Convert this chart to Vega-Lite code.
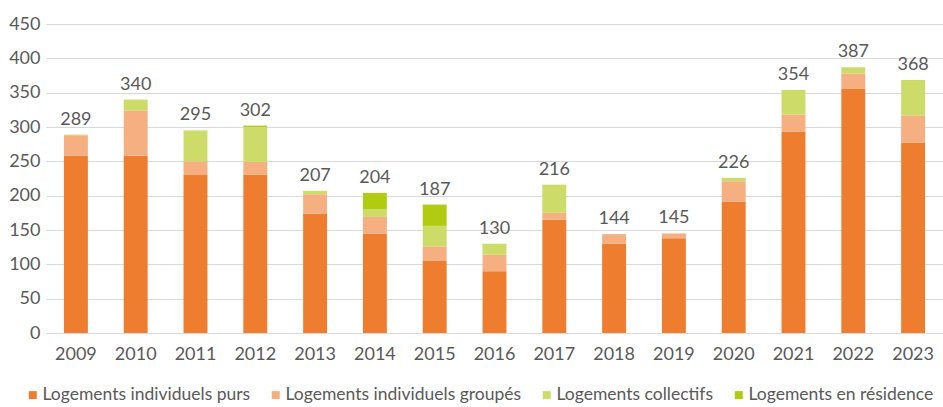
{
  "$schema": "https://vega.github.io/schema/vega-lite/v6.json",
  "width": 897,
  "height": 309,
  "autosize": {"type": "none"},
  "padding": {"left": 46, "top": 24, "right": 0, "bottom": 74},
  "config": {
    "font": "Lato",
    "view": {"stroke": null},
    "axis": {"labelColor": "#595959", "labelFont": "Lato", "labelFontSize": 18, "domain": false, "ticks": false},
    "legend": {"labelColor": "#595959", "labelFont": "Lato", "labelFontSize": 17.5, "labelLimit": 0}
  },
  "data": {
    "values": [
      {"annee": "2009", "type": "Logements individuels purs", "ordre": 1, "valeur": 258},
      {"annee": "2009", "type": "Logements individuels groupés", "ordre": 2, "valeur": 30},
      {"annee": "2009", "type": "Logements collectifs", "ordre": 3, "valeur": 1},
      {"annee": "2009", "type": "Logements en résidence", "ordre": 4, "valeur": 0},
      {"annee": "2010", "type": "Logements individuels purs", "ordre": 1, "valeur": 258},
      {"annee": "2010", "type": "Logements individuels groupés", "ordre": 2, "valeur": 66},
      {"annee": "2010", "type": "Logements collectifs", "ordre": 3, "valeur": 16},
      {"annee": "2010", "type": "Logements en résidence", "ordre": 4, "valeur": 0},
      {"annee": "2011", "type": "Logements individuels purs", "ordre": 1, "valeur": 230},
      {"annee": "2011", "type": "Logements individuels groupés", "ordre": 2, "valeur": 20},
      {"annee": "2011", "type": "Logements collectifs", "ordre": 3, "valeur": 45},
      {"annee": "2011", "type": "Logements en résidence", "ordre": 4, "valeur": 0},
      {"annee": "2012", "type": "Logements individuels purs", "ordre": 1, "valeur": 231},
      {"annee": "2012", "type": "Logements individuels groupés", "ordre": 2, "valeur": 18},
      {"annee": "2012", "type": "Logements collectifs", "ordre": 3, "valeur": 51},
      {"annee": "2012", "type": "Logements en résidence", "ordre": 4, "valeur": 2},
      {"annee": "2013", "type": "Logements individuels purs", "ordre": 1, "valeur": 174},
      {"annee": "2013", "type": "Logements individuels groupés", "ordre": 2, "valeur": 28},
      {"annee": "2013", "type": "Logements collectifs", "ordre": 3, "valeur": 5},
      {"annee": "2013", "type": "Logements en résidence", "ordre": 4, "valeur": 0},
      {"annee": "2014", "type": "Logements individuels purs", "ordre": 1, "valeur": 145},
      {"annee": "2014", "type": "Logements individuels groupés", "ordre": 2, "valeur": 24},
      {"annee": "2014", "type": "Logements collectifs", "ordre": 3, "valeur": 11},
      {"annee": "2014", "type": "Logements en résidence", "ordre": 4, "valeur": 24},
      {"annee": "2015", "type": "Logements individuels purs", "ordre": 1, "valeur": 105},
      {"annee": "2015", "type": "Logements individuels groupés", "ordre": 2, "valeur": 21},
      {"annee": "2015", "type": "Logements collectifs", "ordre": 3, "valeur": 30},
      {"annee": "2015", "type": "Logements en résidence", "ordre": 4, "valeur": 31},
      {"annee": "2016", "type": "Logements individuels purs", "ordre": 1, "valeur": 90},
      {"annee": "2016", "type": "Logements individuels groupés", "ordre": 2, "valeur": 24},
      {"annee": "2016", "type": "Logements collectifs", "ordre": 3, "valeur": 16},
      {"annee": "2016", "type": "Logements en résidence", "ordre": 4, "valeur": 0},
      {"annee": "2017", "type": "Logements individuels purs", "ordre": 1, "valeur": 165},
      {"annee": "2017", "type": "Logements individuels groupés", "ordre": 2, "valeur": 10},
      {"annee": "2017", "type": "Logements collectifs", "ordre": 3, "valeur": 41},
      {"annee": "2017", "type": "Logements en résidence", "ordre": 4, "valeur": 0},
      {"annee": "2018", "type": "Logements individuels purs", "ordre": 1, "valeur": 130},
      {"annee": "2018", "type": "Logements individuels groupés", "ordre": 2, "valeur": 14},
      {"annee": "2018", "type": "Logements collectifs", "ordre": 3, "valeur": 0},
      {"annee": "2018", "type": "Logements en résidence", "ordre": 4, "valeur": 0},
      {"annee": "2019", "type": "Logements individuels purs", "ordre": 1, "valeur": 138},
      {"annee": "2019", "type": "Logements individuels groupés", "ordre": 2, "valeur": 7},
      {"annee": "2019", "type": "Logements collectifs", "ordre": 3, "valeur": 0},
      {"annee": "2019", "type": "Logements en résidence", "ordre": 4, "valeur": 0},
      {"annee": "2020", "type": "Logements individuels purs", "ordre": 1, "valeur": 191},
      {"annee": "2020", "type": "Logements individuels groupés", "ordre": 2, "valeur": 30},
      {"annee": "2020", "type": "Logements collectifs", "ordre": 3, "valeur": 5},
      {"annee": "2020", "type": "Logements en résidence", "ordre": 4, "valeur": 0},
      {"annee": "2021", "type": "Logements individuels purs", "ordre": 1, "valeur": 293},
      {"annee": "2021", "type": "Logements individuels groupés", "ordre": 2, "valeur": 25},
      {"annee": "2021", "type": "Logements collectifs", "ordre": 3, "valeur": 36},
      {"annee": "2021", "type": "Logements en résidence", "ordre": 4, "valeur": 0},
      {"annee": "2022", "type": "Logements individuels purs", "ordre": 1, "valeur": 356},
      {"annee": "2022", "type": "Logements individuels groupés", "ordre": 2, "valeur": 22},
      {"annee": "2022", "type": "Logements collectifs", "ordre": 3, "valeur": 9},
      {"annee": "2022", "type": "Logements en résidence", "ordre": 4, "valeur": 0},
      {"annee": "2023", "type": "Logements individuels purs", "ordre": 1, "valeur": 277},
      {"annee": "2023", "type": "Logements individuels groupés", "ordre": 2, "valeur": 40},
      {"annee": "2023", "type": "Logements collectifs", "ordre": 3, "valeur": 50},
      {"annee": "2023", "type": "Logements en résidence", "ordre": 4, "valeur": 1}
    ]
  },
  "encoding": {
    "x": {
      "field": "annee", "type": "nominal", "title": null,
      "scale": {"paddingInner": 0.6, "paddingOuter": 0.3},
      "axis": {"labelAngle": 0, "labelPadding": 12, "grid": false}
    }
  },
  "layer": [
    {
      "mark": {"type": "bar"},
      "encoding": {
        "y": {
          "field": "valeur", "type": "quantitative", "aggregate": "sum", "stack": "zero", "title": null,
          "scale": {"domain": [0, 450]},
          "axis": {"values": [0, 50, 100, 150, 200, 250, 300, 350, 400, 450], "labelOverlap": false, "gridColor": "#d9d9d9", "labelPadding": 6}
        },
        "color": {
          "field": "type", "type": "nominal", "title": null,
          "scale": {
            "domain": ["Logements individuels purs", "Logements individuels groupés", "Logements collectifs", "Logements en résidence"],
            "range": ["#EE7D2F", "#F5AF80", "#CDDC69", "#B1CB10"]
          },
          "legend": {
            "orient": "none", "legendX": -22, "legendY": 362, "direction": "horizontal",
            "symbolType": "square", "symbolSize": 64, "columnPadding": 16, "labelOffset": 1
          }
        },
        "order": {"field": "ordre", "type": "quantitative"}
      }
    },
    {
      "mark": {"type": "text", "baseline": "bottom", "dy": -6, "fontSize": 18, "color": "#595959", "font": "Lato"},
      "encoding": {
        "y": {
          "field": "valeur", "type": "quantitative", "aggregate": "sum", "title": null,
          "axis": {"values": [0, 50, 100, 150, 200, 250, 300, 350, 400, 450], "labelOverlap": false, "gridColor": "#d9d9d9", "labelPadding": 6}
        },
        "text": {"field": "valeur", "type": "quantitative", "aggregate": "sum"}
      }
    }
  ]
}
